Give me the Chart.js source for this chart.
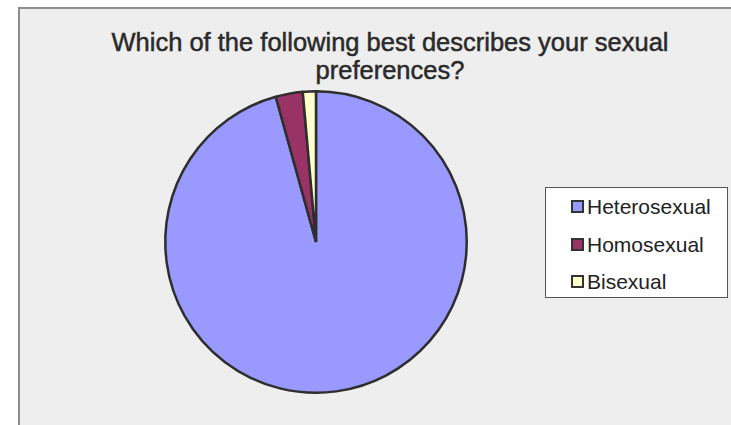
<!DOCTYPE html>
<html>
<head>
<meta charset="utf-8">
<script src="https://cdn.jsdelivr.net/npm/chart.js@4.4.0/dist/chart.umd.min.js"></script>
<style>
  html, body { margin: 0; padding: 0; background: #ffffff; }
  body { width: 731px; height: 425px; position: relative; overflow: hidden; font-family: "Liberation Sans", Arial, sans-serif; }
  #panel {
    position: absolute; left: 18px; top: 7px; width: 713px; height: 418px;
    background: #eeeeee; border-left: 2px solid #8c8c8c; border-top: 2px solid #8c8c8c;
    box-sizing: border-box;
  }
  #title {
    position: absolute; left: 90px; width: 600px; top: 28px;
    text-align: center; font-size: 25.5px; line-height: 28px; color: #2a2a2a;
    -webkit-text-stroke: 0.5px #2a2a2a;
  }
  #chartWrap { position: absolute; left: 0; top: 0; width: 731px; height: 425px; }
  #legend {
    position: absolute; left: 545px; top: 187px; width: 183px; height: 111px;
    background: #ffffff; border: 1px solid #555555; box-sizing: border-box;
  }
  .item { position: absolute; left: 25px; height: 24px; font-size: 21px; line-height: 24px; color: #222222; white-space: nowrap; }
  .item span.box {
    display: inline-block; width: 9px; height: 9px; border: 2px solid #333333;
    margin-right: 3px; vertical-align: 1px;
  }
</style>
</head>
<body>
<div id="panel"></div>
<div id="title">Which of the following best describes your sexual<br>preferences?</div>
<div id="chartWrap"><canvas id="pie"></canvas></div>
<div id="legend"></div>
<script>
  const categories = ['Heterosexual', 'Homosexual', 'Bisexual'];
  const values = [95.7, 2.9, 1.4];
  const colors = ['#9999ff', '#993366', '#ffffcc'];

  const legend = document.getElementById('legend');
  categories.forEach((name, i) => {
    const row = document.createElement('div');
    row.className = 'item';
    row.style.top = (7 + i * 37.5) + 'px';
    row.innerHTML = `<span class="box" style="background:${colors[i]}"></span>${name}`;
    legend.appendChild(row);
  });

  const ctx = document.getElementById('pie').getContext('2d');
  new Chart(ctx, {
    type: 'pie',
    data: {
      labels: categories,
      datasets: [{
        data: values,
        backgroundColor: colors,
        borderColor: '#2e2e2e',
        borderWidth: 2.5
      }]
    },
    options: {
      responsive: true,
      maintainAspectRatio: false,
      animation: false,
      layout: { padding: { left: 164, top: 90, right: 263, bottom: 31 } },
      plugins: {
        legend: { display: false },
        title: { display: false },
        tooltip: { enabled: false }
      }
    }
  });
</script>
</body>
</html>
